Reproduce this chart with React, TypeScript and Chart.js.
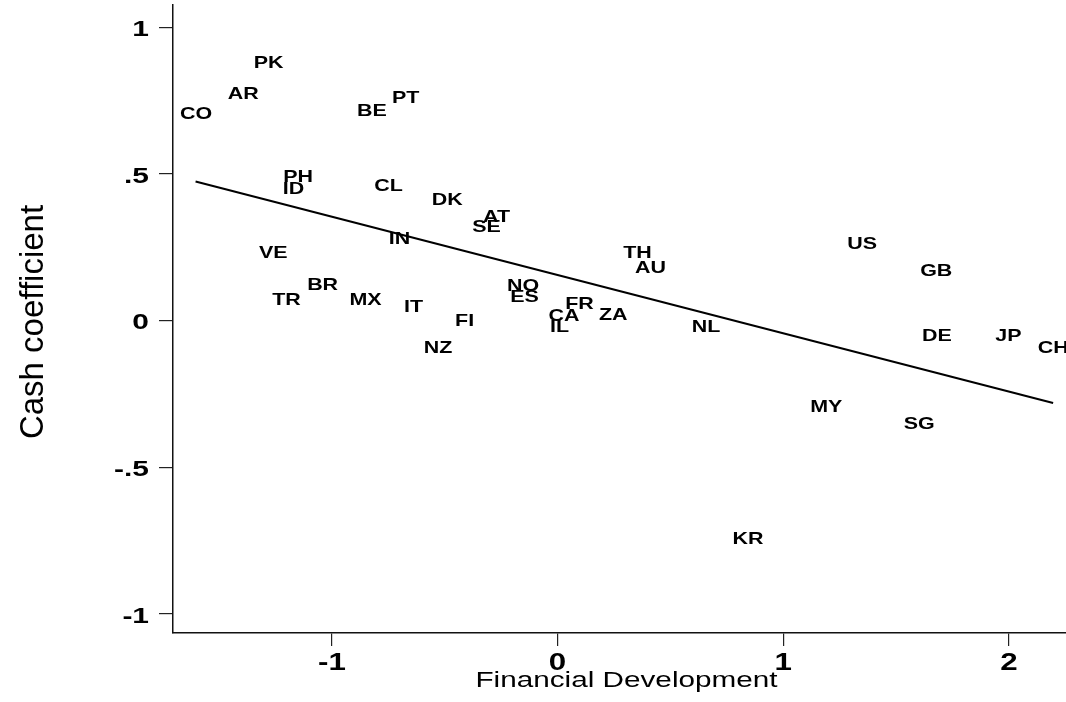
import React, { useEffect, useRef } from "react";
import { Chart, registerables } from "chart.js";

Chart.register(...registerables);

// Country codes (labels drawn at each point)
const countries = [
  "CO", "PK", "AR", "BE", "PT", "PH", "ID", "CL", "DK", "AT", "SE", "IN",
  "VE", "BR", "TR", "MX", "IT", "FI", "NZ", "NO", "ES", "FR", "CA", "IL",
  "ZA", "TH", "AU", "NL", "US", "GB", "DE", "JP", "CH", "MY", "SG", "KR",
];
// Financial development (x)
const finDev = [
  -1.602, -1.28, -1.393, -0.823, -0.673, -1.15, -1.17, -0.749, -0.489, -0.27, -0.315, -0.7,
  -1.26, -1.041, -1.201, -0.851, -0.638, -0.412, -0.529, -0.153, -0.146, 0.097, 0.029, 0.009,
  0.247, 0.354, 0.412, 0.658, 1.35, 1.678, 1.681, 1.998, 2.196, 1.191, 1.603, 0.844,
];
// Cash coefficient (y)
const cashCoef = [
  0.707, 0.882, 0.775, 0.72, 0.762, 0.494, 0.453, 0.461, 0.413, 0.357, 0.324, 0.283,
  0.234, 0.123, 0.073, 0.072, 0.051, 0.002, -0.089, 0.121, 0.083, 0.061, 0.02, -0.017,
  0.022, 0.235, 0.184, -0.019, 0.263, 0.171, -0.051, -0.048, -0.09, -0.29, -0.351, -0.741,
];
// Fitted regression line endpoints
const fitX = [-1.604, 2.196];
const fitY = [0.475, -0.281];

const xTicks = [-1, 0, 1, 2];
const xTickLabels = ["-1", "0", "1", "2"];
const yTicks = [-1, -0.5, 0, 0.5, 1];
const yTickLabels = ["-1", "-.5", "0", ".5", "1"];

const xTitle = "Financial Development";
const yTitle = "Cash coefficient";

const FONT = "'Liberation Sans', Arial, Helvetica, sans-serif";

function drawText(
  ctx: CanvasRenderingContext2D,
  text: string,
  x: number,
  y: number,
  size: number,
  weight: string,
  sx: number,
  align: CanvasTextAlign
) {
  ctx.save();
  ctx.translate(x, y);
  ctx.scale(sx, 1);
  ctx.font = `${weight} ${size}px ${FONT}`;
  ctx.textAlign = align;
  ctx.textBaseline = "alphabetic";
  ctx.fillStyle = "#000";
  ctx.fillText(text, 0, size * 0.358);
  ctx.restore();
}

const textPlugin = {
  id: "textPlugin",
  afterDraw(chart: any) {
    const ctx: CanvasRenderingContext2D = chart.ctx;
    const xs = chart.scales.x;
    const ys = chart.scales.y;
    // country labels
    const meta = chart.getDatasetMeta(0);
    meta.data.forEach((el: any, i: number) => {
      drawText(ctx, countries[i], el.x, el.y, 16.5, "bold", 1.3, "center");
    });
    // x tick labels
    xs.ticks.forEach((t: any, i: number) => {
      const px = xs.getPixelForValue(t.value);
      drawText(ctx, xTickLabels[i], px, 661.5, 23, "bold", 1.36, "center");
    });
    // y tick labels
    ys.ticks.forEach((t: any, i: number) => {
      const py = ys.getPixelForValue(t.value);
      drawText(ctx, yTickLabels[i], 149, py + 1, 22, "bold", 1.36, "right");
    });
    // x title
    drawText(ctx, xTitle, 626.5, 679.5, 22, "normal", 1.35, "center");
    // y title (rotated)
    ctx.save();
    ctx.translate(31, 322);
    ctx.rotate(-Math.PI / 2);
    ctx.font = `normal 33px ${FONT}`;
    ctx.textAlign = "center";
    ctx.textBaseline = "alphabetic";
    ctx.fillStyle = "#000";
    ctx.fillText(yTitle, 0, 33 * 0.358);
    ctx.restore();
  },
};

export default function App() {
  const ref = useRef<HTMLCanvasElement | null>(null);
  useEffect(() => {
    if (!ref.current) return;
    const points = finDev.map((x, i) => ({ x, y: cashCoef[i] }));
    const fitPts = fitX.map((x, i) => ({ x, y: fitY[i] }));
    const chart = new Chart(ref.current, {
      type: "scatter",
      data: {
        datasets: [
          { data: points, pointRadius: 0, pointHoverRadius: 0, showLine: false },
          {
            data: fitPts,
            showLine: true,
            borderColor: "#000",
            borderWidth: 2,
            pointRadius: 0,
            pointHoverRadius: 0,
          },
        ],
      },
      options: {
        responsive: false,
        animation: false,
        devicePixelRatio: 1,
        layout: { padding: { top: 5, right: 0, bottom: 0, left: 0 } },
        plugins: { legend: { display: false }, tooltip: { enabled: false } },
        scales: {
          x: {
            type: "linear",
            min: -1.704,
            max: 2.253,
            afterBuildTicks: (s: any) => {
              s.ticks = xTicks.map((v) => ({ value: v }));
            },
            afterFit: (s: any) => {
              s.height = 69;
            },
            ticks: { display: false },
            grid: { drawOnChartArea: false, drawTicks: true, tickLength: 13, color: "#222", lineWidth: 1.2 },
            border: { display: true, color: "#111", width: 1.5 },
          },
          y: {
            type: "linear",
            min: -1.066,
            max: 1.077,
            afterBuildTicks: (s: any) => {
              s.ticks = yTicks.map((v) => ({ value: v }));
            },
            afterFit: (s: any) => {
              s.width = 173;
            },
            ticks: { display: false },
            grid: { drawOnChartArea: false, drawTicks: true, tickLength: 14, color: "#222", lineWidth: 1.2 },
            border: { display: true, color: "#111", width: 1.5 },
          },
        },
      },
      plugins: [textPlugin],
    });
    return () => chart.destroy();
  }, []);
  return (
    <div style={{ position: "fixed", left: 0, top: 0, width: 1066, height: 702, background: "#fff", overflow: "hidden" }}>
      <canvas ref={ref} width={1066} height={702} style={{ width: 1066, height: 702, display: "block" }} />
    </div>
  );
}
